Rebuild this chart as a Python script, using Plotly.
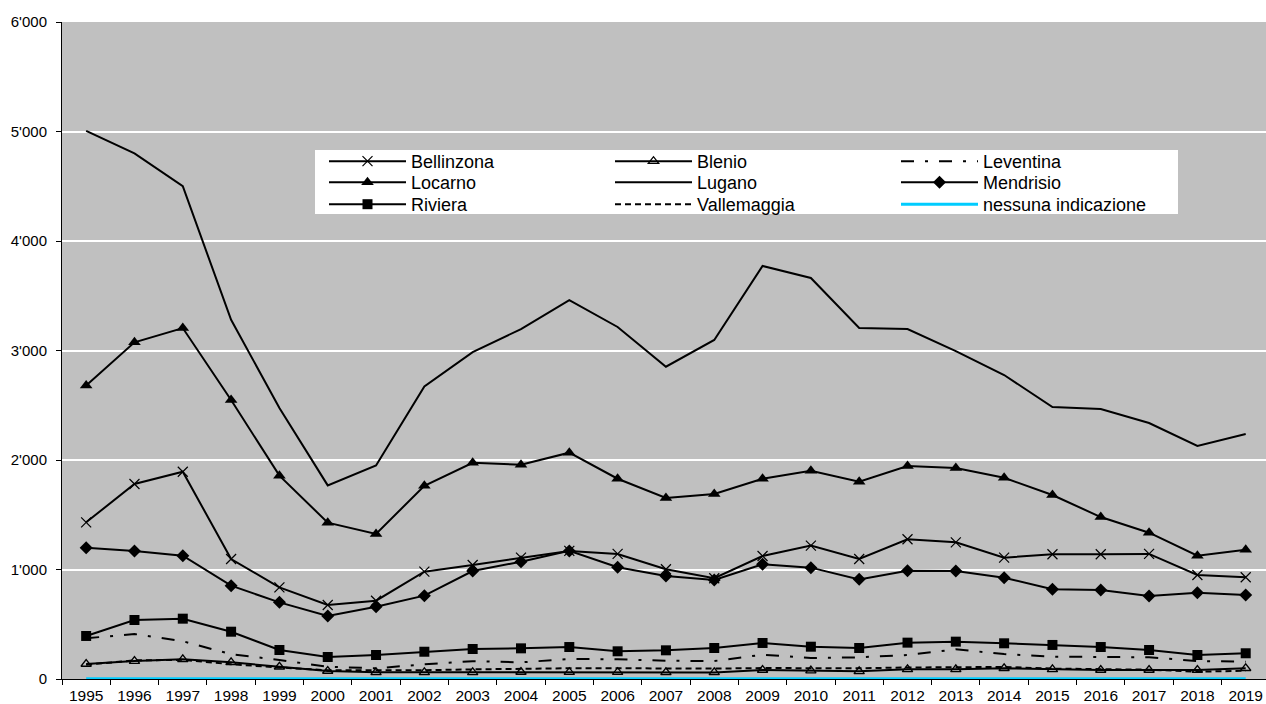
import plotly.graph_objects as go

years = [str(y) for y in range(1995, 2020)]

bellinzona = [1431, 1781, 1893, 1096, 837, 676, 715, 980, 1041, 1108, 1170, 1142, 1002, 920, 1123, 1218, 1096, 1276, 1248, 1108, 1139, 1139, 1142, 950, 929]
blenio = [137, 164, 180, 152, 112, 73, 61, 61, 61, 64, 62, 62, 60, 60, 82, 76, 70, 88, 88, 98, 88, 82, 82, 82, 98]
leventina = [372, 411, 345, 226, 174, 112, 98, 134, 163, 152, 183, 180, 167, 164, 222, 192, 198, 219, 271, 228, 204, 204, 198, 164, 158]
locarno = [2680, 3075, 3205, 2548, 1857, 1428, 1324, 1765, 1975, 1957, 2067, 1829, 1653, 1689, 1829, 1902, 1802, 1945, 1927, 1838, 1680, 1479, 1336, 1126, 1181]
lugano = [5005, 4800, 4500, 3280, 2475, 1768, 1950, 2672, 2985, 3196, 3460, 3215, 2852, 3096, 3772, 3662, 3205, 3196, 2995, 2776, 2484, 2466, 2338, 2128, 2237]
mendrisio = [1199, 1169, 1126, 852, 700, 575, 660, 761, 986, 1071, 1170, 1020, 941, 904, 1047, 1017, 910, 989, 986, 925, 819, 813, 758, 788, 767]
riviera = [393, 539, 551, 432, 265, 201, 219, 249, 274, 280, 292, 253, 262, 283, 329, 295, 283, 332, 341, 326, 311, 292, 265, 219, 235]
vallemaggia = [130, 170, 175, 135, 105, 80, 80, 80, 88, 95, 98, 98, 95, 95, 100, 100, 98, 105, 105, 110, 95, 90, 85, 67, 75]
nessuna = [3, 3, 3, 3, 3, 3, 3, 3, 3, 3, 3, 3, 3, 3, 3, 3, 3, 3, 3, 3, 3, 3, 3, 3, 3]

BLACK = "#000000"
CYAN = "#00CCFF"

fig = go.Figure()

def add(name, vals, legend, rank, symbol=None, msize=10, dash="solid", color=BLACK, width=2, mline=None):
    mode = "lines+markers" if symbol else "lines"
    marker = None
    if symbol:
        marker = dict(symbol=symbol, size=msize, color=color,
                      line=dict(color=color, width=mline if mline is not None else 0))
    fig.add_trace(go.Scatter(
        x=years, y=vals, name=name, mode=mode, legend=legend, legendrank=rank,
        line=dict(color=color, width=width, dash=dash),
        marker=marker, hoverinfo="x+y+name"))

# rows of the legend: legend = row 1, legend2 = row 2, legend3 = row 3
add("Lugano", lugano, "legend2", 2)
add("Locarno", locarno, "legend2", 1, symbol="triangle-up", msize=11)
add("Bellinzona", bellinzona, "legend", 1, symbol="x-thin", msize=10, mline=1.2)
add("Mendrisio", mendrisio, "legend2", 3, symbol="diamond", msize=10)
add("Riviera", riviera, "legend3", 1, symbol="square", msize=10)
add("Leventina", leventina, "legend", 3, dash="13px,11px,3px,11px")
add("Vallemaggia", vallemaggia, "legend3", 2, dash="6px,4px")
add("Blenio", blenio, "legend", 2, symbol="triangle-up-open", msize=9, mline=1.3)
add("nessuna indicazione", nessuna, "legend3", 3, color=CYAN, width=3)

W, H = 1266, 704
PL, PR, PT, PB = 62, 1266, 22, 679   # plot area in page pixels
PW, PH = PR - PL, PB - PT

def px(x):
    return (x - PL) / PW

def py(y):
    return (PB - y) / PH

fig.add_shape(type="rect", xref="paper", yref="paper",
              x0=px(315), x1=px(1178), y0=py(214), y1=py(150),
              fillcolor="white", line=dict(width=0), layer="above")

legfont = dict(family="Liberation Sans, Arial, sans-serif", size=18, color="black")
common = dict(bgcolor="rgba(0,0,0,0)", borderwidth=0, font=legfont,
              itemwidth=77, tracegroupgap=0, yanchor="top", xanchor="left",
              orientation="h", entrywidth=194, entrywidthmode="pixels",
              traceorder="normal", itemclick=False, itemdoubleclick=False)

fig.update_layout(
    width=W, height=H,
    margin=dict(l=PL, r=W - PR, t=PT, b=H - PB, autoexpand=False),
    paper_bgcolor="white",
    plot_bgcolor="#C0C0C0",
    separators=".'",
    font=dict(family="Liberation Sans, Arial, sans-serif", size=15, color="black"),
    showlegend=True,
    legend=dict(x=px(324), y=py(143), **common),
    legend2=dict(x=px(324), y=py(164), **common),
    legend3=dict(x=px(324), y=py(186), **common),
    xaxis=dict(
        type="category", categoryorder="array", categoryarray=years,
        range=[-0.5, 24.42], tickson="boundaries", ticks="outside", ticklen=5,
        tickcolor="black", tickwidth=1, showline=True, linecolor="black", linewidth=1,
        showgrid=False, zeroline=False, automargin=False,
        tickfont=dict(size=15.5), ticklabelstandoff=2,
    ),
    yaxis=dict(
        range=[0, 6000], dtick=1000, tick0=0, tickformat=",",
        ticks="outside", ticklen=5, tickcolor="black", tickwidth=1,
        showline=True, linecolor="black", linewidth=1,
        showgrid=True, gridcolor="white", gridwidth=2, zeroline=False,
        automargin=False, tickfont=dict(size=15), ticklabelstandoff=6,
    ),
)

fig.write_html("out.html",
               config={"displayModeBar": False},
               post_script="document.body.style.margin='0';document.documentElement.style.overflow='hidden';")
